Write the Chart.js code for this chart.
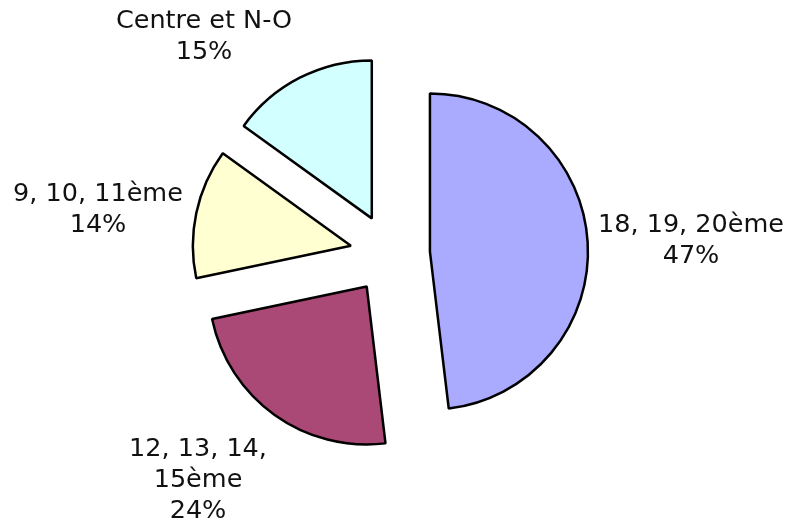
<!DOCTYPE html>
<html>
<head>
<meta charset="utf-8">
<script src="https://cdn.jsdelivr.net/npm/chart.js@4/dist/chart.umd.min.js"></script>
<style>
html,body{margin:0;padding:0;background:#fff;}
#wrap{width:789px;height:523px;}
</style>
</head>
<body>
<div id="wrap"><canvas id="c" width="789" height="523"></canvas></div>
<script>
// ---- data ----
const categories = ['18, 19, 20ème', ['12, 13, 14,', '15ème'], '9, 10, 11ème', 'Centre et N-O'];
// percentages printed on the chart
const shareLabels = ['47%', '24%', '14%', '15%'];
// slice sizes as drawn in the picture
const sliceValues = [48.1, 23.6, 13.25, 15.05];

// ---- styles ----
const sliceColors = ['#AAAAFF', '#AA4876', '#FFFFD2', '#D2FFFF'];
const explode = 40;      // px each slice is pulled out from the centre
// label block placement relative to pie centre: [dx of block centre, dy of first baseline]
const labelPlacement = [[301, -22], [-192, 202], [-292, -53], [-186, -226]];
const labelFont = '25.5px "DejaVu Sans", Verdana, sans-serif';
const lineHeight = 31;

// Explode each slice by the same distance along its mid-angle
const explodePlugin = {
  id: 'explodeSlices',
  afterDatasetUpdate(chart, args) {
    const meta = args.meta;
    meta.data.forEach(arc => {
      const mid = (arc.startAngle + arc.endAngle) / 2;
      arc._cx = arc.x; arc._cy = arc.y;
      arc.x = arc.x + Math.cos(mid) * explode;
      arc.y = arc.y + Math.sin(mid) * explode;
    });
  }
};

const labelPlugin = {
  id: 'sliceLabels',
  afterDatasetsDraw(chart) {
    const ctx = chart.ctx;
    const meta = chart.getDatasetMeta(0);
    ctx.save();
    ctx.font = labelFont;
    ctx.fillStyle = '#111';
    ctx.textAlign = 'center';
    ctx.textBaseline = 'alphabetic';
    meta.data.forEach((arc, i) => {
      const cx = arc._cx, cy = arc._cy;
      const lab = chart.data.labels[i];
      const lines = (Array.isArray(lab) ? lab.slice() : [lab]);
      lines.push(shareLabels[i]);
      const [dx, dy] = labelPlacement[i];
      lines.forEach((t, k) => {
        ctx.fillText(t, cx + dx, cy + dy + k * lineHeight);
      });
    });
    ctx.restore();
  }
};

new Chart(document.getElementById('c'), {
  type: 'pie',
  data: {
    labels: categories,
    datasets: [{
      data: sliceValues,
      backgroundColor: sliceColors,
      borderColor: '#000',
      borderWidth: 2.5,
      offset: 0,
      hoverOffset: 0
    }]
  },
  options: {
    responsive: false,
    animation: false,
    radius: 158,
    layout: { padding: { left: 0, right: 9, top: 0, bottom: 15 } },
    plugins: {
      legend: { display: false },
      tooltip: { enabled: false }
    },
    events: []
  },
  plugins: [explodePlugin, labelPlugin]
});
</script>
</body>
</html>
